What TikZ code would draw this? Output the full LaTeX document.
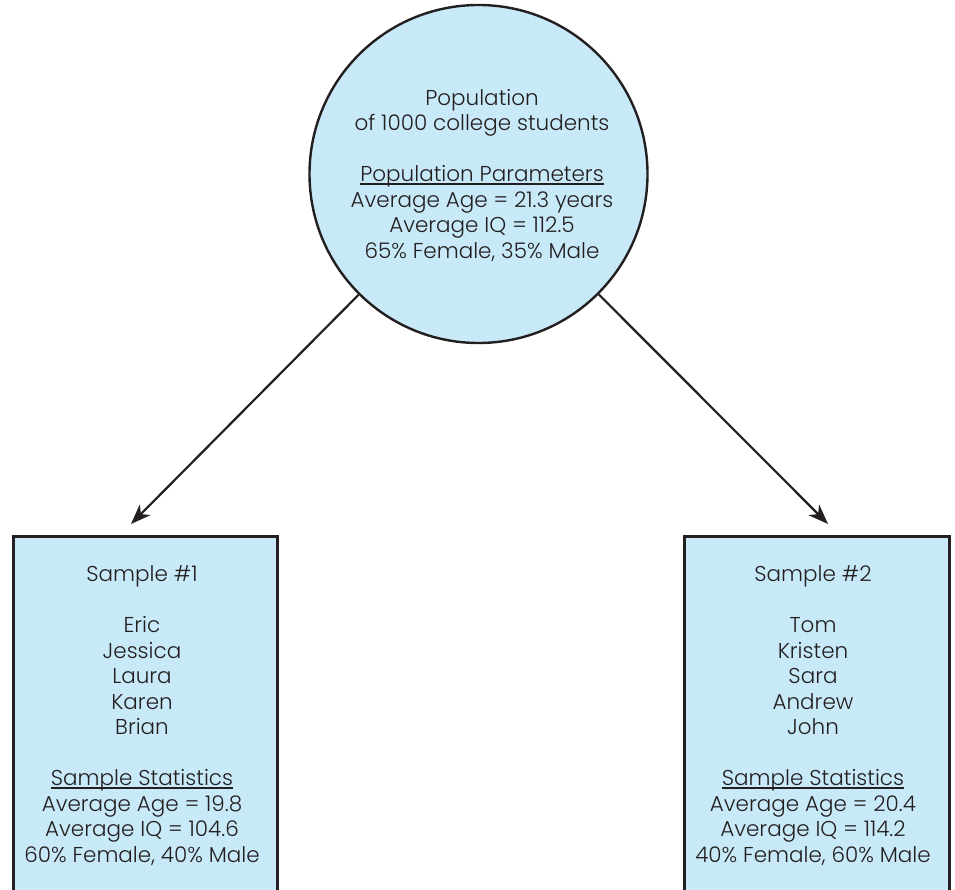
\documentclass[tikz,border=0pt]{standalone}
\usepackage{fontspec}
\setmainfont{Poppins}[UprightFont=* Light]
\usetikzlibrary{arrows.meta}
\definecolor{fillblue}{HTML}{C8E9F8}
\definecolor{ink}{HTML}{231F20}
\newcommand\ulx[1]{\leavevmode\setbox0\hbox{#1}\rlap{\rule[-3pt]{\wd0}{1.2pt}}\box0}
\begin{document}
\begin{tikzpicture}[x=1pt,y=-1pt,
  shapeline/.style={draw=ink, line width=2.4pt, fill=fillblue},
  label/.style={align=center, text=ink, font=\fontsize{21.5}{25.5}\selectfont, inner sep=0pt},
  connector/.style={draw=ink, line width=2.2pt, -{Stealth[length=20pt,width=15pt,inset=6pt]}}]
\clip (0,0) rectangle (955,890);
\node[shapeline, circle, minimum size=338pt, inner sep=0pt] (pop) at (478.5,174) {};
\node[label] (poptext) at (482,175) {Population\\of 1000 college students\\[25.5pt]\ulx{Population Parameters}\\Average Age = 21.3 years\\Average IQ = 112.5\\65\% Female, 35\% Male};
\node[shapeline, rectangle, anchor=north west, minimum width=264pt, minimum height=370pt, inner sep=0pt, line width=2.6pt] (s1) at (12,535) {};
\node[shapeline, rectangle, anchor=north west, minimum width=265pt, minimum height=370pt, inner sep=0pt, line width=2.6pt] (s2) at (683,535) {};
\node[label] (s1text) at (142,715.5) {Sample \#1\\[25.5pt]Eric\\Jessica\\Laura\\Karen\\Brian\\[25.5pt]\ulx{Sample Statistics}\\Average Age = 19.8\\Average IQ = 104.6\\60\% Female, 40\% Male};
\node[label] (s2text) at (813,715.5) {Sample \#2\\[25.5pt]Tom\\Kristen\\Sara\\Andrew\\John\\[25.5pt]\ulx{Sample Statistics}\\Average Age = 20.4\\Average IQ = 114.2\\40\% Female, 60\% Male};
\coordinate (tip1) at (131,524);
\coordinate (tip2) at (828,524);
\draw[connector] (pop) -- (tip1);
\draw[connector] (pop) -- (tip2);
\end{tikzpicture}
\end{document}
